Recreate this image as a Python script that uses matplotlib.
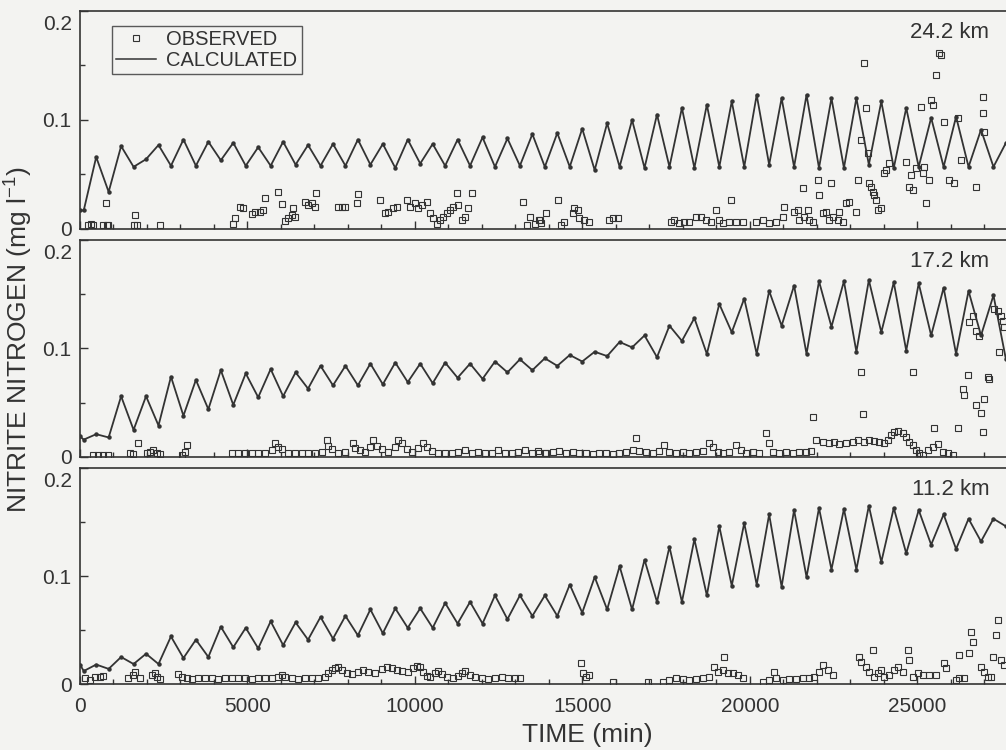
import matplotlib.pyplot as plt
from matplotlib.lines import Line2D
from matplotlib.ticker import MultipleLocator
from matplotlib.transforms import ScaledTranslation

plt.rcParams['font.family'] = ['Liberation Sans', 'DejaVu Sans']

ink = '#333333'
paper = '#f3f3f1'

# calculated series, one value per half tide (trough / peak), time in min
calc_time = [0] + list(range(112, 27700, 372))

calc_24 = [0.017, 0.017, 0.066, 0.034, 0.076, 0.057, 0.064, 0.077, 0.058, 0.082,
           0.058, 0.080, 0.063, 0.079, 0.058, 0.075, 0.058, 0.080, 0.059, 0.077,
           0.058, 0.078, 0.058, 0.082, 0.059, 0.078, 0.056, 0.082, 0.060, 0.078,
           0.058, 0.082, 0.058, 0.084, 0.057, 0.083, 0.058, 0.087, 0.057, 0.088,
           0.057, 0.092, 0.054, 0.097, 0.057, 0.100, 0.056, 0.105, 0.057, 0.111,
           0.056, 0.114, 0.057, 0.117, 0.057, 0.123, 0.059, 0.120, 0.057, 0.123,
           0.056, 0.120, 0.056, 0.120, 0.059, 0.117, 0.056, 0.111, 0.057, 0.102,
           0.057, 0.103, 0.057, 0.091, 0.057, 0.079]

calc_17 = [0.019, 0.016, 0.021, 0.018, 0.056, 0.025, 0.056, 0.029, 0.074, 0.038,
           0.071, 0.044, 0.080, 0.048, 0.077, 0.055, 0.081, 0.056, 0.078, 0.063,
           0.084, 0.066, 0.084, 0.066, 0.086, 0.067, 0.087, 0.069, 0.086, 0.068,
           0.087, 0.073, 0.086, 0.072, 0.088, 0.078, 0.090, 0.080, 0.091, 0.084,
           0.094, 0.088, 0.097, 0.093, 0.106, 0.101, 0.112, 0.092, 0.121, 0.107,
           0.128, 0.095, 0.141, 0.115, 0.146, 0.095, 0.153, 0.121, 0.158, 0.095,
           0.162, 0.120, 0.162, 0.097, 0.163, 0.115, 0.161, 0.098, 0.160, 0.112,
           0.156, 0.095, 0.153, 0.112, 0.149, 0.090]

calc_11 = [0.018, 0.012, 0.018, 0.014, 0.025, 0.0185, 0.028, 0.0185, 0.044, 0.024,
           0.041, 0.025, 0.053, 0.034, 0.052, 0.033, 0.058, 0.036, 0.057, 0.041,
           0.062, 0.042, 0.063, 0.045, 0.069, 0.047, 0.070, 0.052, 0.070, 0.052,
           0.075, 0.056, 0.076, 0.056, 0.082, 0.060, 0.082, 0.063, 0.082, 0.063,
           0.092, 0.066, 0.099, 0.069, 0.109, 0.069, 0.115, 0.076, 0.127, 0.076,
           0.134, 0.082, 0.146, 0.091, 0.149, 0.092, 0.157, 0.090, 0.161, 0.099,
           0.163, 0.106, 0.162, 0.106, 0.165, 0.113, 0.163, 0.121, 0.161, 0.129,
           0.157, 0.125, 0.153, 0.132, 0.153, 0.146]

# observed samples
obs_time_24 = [249, 330, 398, 697, 766, 796, 850, 1600, 1642, 1692, 2388,
               4577, 4627, 4776, 4876, 5124, 5224, 5373, 5473, 5522, 5920, 6020, 6119, 6219, 6318, 6368, 6418,
               6716, 6816, 6915, 7015, 7050, 7711, 7811, 7910, 8259, 8308, 8955, 9104, 9204, 9353, 9453,
               9751, 9851, 10000, 10100, 10199, 10348, 10448, 10547, 10647, 10746, 10846, 10945, 11045, 11144, 11244, 11293,
               11393, 11492, 11592, 11691, 13234, 13333, 13433, 13582, 13731,
               13712, 13761, 13910, 14259, 14358, 14458, 14707, 14756, 14856, 14906, 15055, 15204, 15801, 15900, 16050,
               17642, 17741, 17891, 18040, 18189, 18388, 18537, 18687, 18836, 18985, 19085, 19184, 19383, 19433, 19582, 19781,
               20179, 20378, 20577, 20776, 20975, 21025, 21323, 21423, 21473, 21572, 21622, 21721, 21771, 21871,
               22020, 22070, 22169, 22269, 22368, 22418, 22468, 22617, 22667, 22766, 22866, 22965, 23164, 23214,
               23313, 23413, 23463, 23512, 23562, 23612, 23662, 23711, 23761, 23811, 23910, 24010, 24060, 24159,
               24657, 24756, 24806, 24856, 24955, 25104, 25154, 25204, 25254, 25353, 25403, 25453, 25552, 25652, 25701, 25801,
               25950, 26099, 26199, 26298, 26746, 26945, 26945, 26995]
obs_24 = [0.004, 0.005, 0.004, 0.004, 0.0235, 0.004, 0.004, 0.004, 0.013, 0.004, 0.004,
          0.005, 0.010, 0.0205, 0.019, 0.014, 0.016, 0.016, 0.017, 0.028, 0.034, 0.023, 0.007, 0.010, 0.013, 0.019, 0.011,
          0.025, 0.022, 0.0235, 0.0205, 0.033, 0.0205, 0.020, 0.0205, 0.0235, 0.032, 0.027, 0.0145, 0.016, 0.019, 0.0205,
          0.027, 0.0205, 0.0235, 0.019, 0.022, 0.025, 0.0145, 0.010, 0.005, 0.008, 0.011, 0.0145, 0.0175, 0.0205, 0.033, 0.022,
          0.008, 0.011, 0.019, 0.033, 0.025, 0.004, 0.011, 0.005, 0.008,
          0.0083, 0.0052, 0.0144, 0.0266, 0.0037, 0.0067, 0.0144, 0.019, 0.0174, 0.0098, 0.0083, 0.0067, 0.0083, 0.0098, 0.0098,
          0.0067, 0.0083, 0.0052, 0.0067, 0.0067, 0.0113, 0.0113, 0.0083, 0.0067, 0.0174, 0.0083, 0.0052, 0.0067, 0.0266, 0.0067, 0.0067,
          0.0067, 0.0083, 0.0052, 0.0067, 0.0113, 0.0205, 0.0159, 0.0174, 0.0083, 0.0373, 0.0113, 0.0174, 0.0083, 0.0067,
          0.045, 0.0312, 0.0144, 0.0159, 0.0083, 0.0419, 0.0113, 0.0083, 0.0159, 0.0067, 0.0235, 0.025, 0.0159, 0.045,
          0.0817, 0.152, 0.1107, 0.0694, 0.0419, 0.0389, 0.0343, 0.0312, 0.0266, 0.0174, 0.019, 0.0511, 0.0541, 0.0603,
          0.0618, 0.0389, 0.0495, 0.0358, 0.0557, 0.1122, 0.0511, 0.0572, 0.0235, 0.045, 0.1183, 0.1138, 0.1413, 0.1612, 0.1596, 0.0985,
          0.045, 0.0419, 0.1015, 0.0633, 0.0389, 0.1214, 0.1061, 0.0893]

obs_time_17 = [398, 548, 697, 846, 1493, 1592, 1741, 1990, 2090, 2189, 2289, 2388, 3035, 3134, 3184,
               4527, 4726, 4925, 5124, 5323, 5522, 5721, 5821, 5920, 6020, 6219, 6418, 6617, 6816, 7015, 7214, 7363, 7413, 7512, 7711, 7910,
               8159, 8209, 8358, 8507, 8657, 8756, 8856, 9005, 9204, 9403, 9502, 9602, 9751, 9900, 10099, 10249, 10348, 10497, 10696,
               10895, 11094, 11293, 11492, 11691, 11890, 12089, 12288, 12487, 12686, 12885, 13084, 13283, 13482, 13681, 13880,
               13712, 13911, 14110, 14309, 14508, 14707, 14906, 15105, 15304, 15503, 15702, 15901, 16100, 16299, 16498, 16597, 16697, 16896, 17095, 17294, 17443, 17592,
               17791, 17990, 18189, 18388, 18587, 18786, 18886, 19035, 19184, 19383, 19582, 19731, 19881, 20080, 20279, 20478, 20577, 20677, 20876, 21075, 21274, 21473, 21672, 21821, 21871,
               21970, 22169, 22368, 22517, 22667, 22866, 23065, 23214, 23413, 23562, 23711, 23861, 24010, 24109, 24209, 24308, 24408, 24557, 24657, 24756,
               24856, 24955, 25055, 25154, 25303, 25453, 25602, 25751, 25901, 26050,
               23313, 23363, 24856, 25502, 26199, 26497, 26348, 26398, 26746, 26995, 26895, 26945, 27094, 27144,
               26547, 26647, 26746, 26846, 27293, 27393, 27492, 27542, 27592, 27443]
obs_17 = [0.0018, 0.0018, 0.0018, 0.0018, 0.0034, 0.0028, 0.0125, 0.0034, 0.0049, 0.0064, 0.0034, 0.0028, 0.0018, 0.0049, 0.011,
          0.0034, 0.0034, 0.004, 0.0034, 0.0034, 0.004, 0.0064, 0.0125, 0.0095, 0.0071, 0.004, 0.0034, 0.0034, 0.0034, 0.004, 0.0049, 0.0156, 0.0101, 0.0071, 0.004, 0.0049,
          0.0125, 0.008, 0.0064, 0.0049, 0.0095, 0.0156, 0.0101, 0.0071, 0.0049, 0.0095, 0.0156, 0.0125, 0.0071, 0.0049, 0.008, 0.0125, 0.0095, 0.0058, 0.004,
          0.0034, 0.004, 0.0049, 0.0064, 0.004, 0.0049, 0.0034, 0.004, 0.0064, 0.004, 0.0034, 0.0049, 0.0064, 0.004, 0.0058, 0.004,
          0.0034, 0.004, 0.0049, 0.0058, 0.004, 0.0049, 0.004, 0.0034, 0.0027, 0.0034, 0.004, 0.0027, 0.004, 0.0049, 0.0064, 0.0171, 0.0058, 0.0049, 0.004, 0.0058, 0.011, 0.0049,
          0.004, 0.0049, 0.004, 0.0049, 0.0058, 0.0125, 0.0095, 0.0049, 0.004, 0.0049, 0.011, 0.0064, 0.004, 0.0049, 0.004, 0.0217, 0.0125, 0.0049, 0.004, 0.0049, 0.004, 0.0049, 0.0049, 0.0058, 0.037,
          0.0156, 0.0141, 0.0125, 0.0141, 0.0119, 0.0125, 0.0141, 0.0156, 0.0141, 0.0156, 0.015, 0.0141, 0.0132, 0.0156, 0.0202, 0.0232, 0.0242, 0.0223, 0.0187, 0.0141,
          0.011, 0.0064, 0.0034, 0.0018, 0.0064, 0.0095, 0.0119, 0.0049, 0.0034, 0.0018,
          0.0783, 0.0394, 0.0783, 0.0263, 0.0263, 0.0752, 0.063, 0.0569, 0.0477, 0.0538, 0.0401, 0.0232, 0.0737, 0.0722,
          0.1242, 0.1303, 0.1165, 0.1119, 0.1364, 0.1349, 0.1303, 0.1257, 0.1196, 0.0966]

obs_time_11 = [150, 299, 448, 597, 697, 1443, 1592, 1642, 1791, 2139, 2239, 2289, 2388,
               2935, 3035, 3184, 3334, 3532, 3731, 3930, 4130, 4328, 4527, 4726, 4925, 5124, 5323, 5522, 5721, 5920, 6020, 6119, 6318, 6518, 6717, 6916, 7115, 7314,
               7413, 7513, 7612, 7711, 7811, 7960, 8110, 8309, 8458, 8607, 8806, 9005, 9154, 9304, 9453, 9602, 9801, 9950, 10050, 10149, 10249, 10348, 10448,
               10597, 10697, 10796, 10945, 11144, 11294, 11393, 11493, 11642, 11791, 11990, 12189, 12388, 12587, 12786, 12985, 13134,
               14955, 15005, 15105, 15204, 15901, 16945, 17393, 17592, 17791, 17990, 18189, 18388, 18587, 18786, 18935, 19035, 19184, 19234, 19333, 19483, 19632, 19781,
               20378, 20577, 20726, 20776, 20975, 21174, 21373, 21572, 21771, 21920, 22070, 22169, 22318, 22468,
               23264, 23313, 23463, 23562, 23662, 23711, 23811, 23910, 24010, 24159, 24308, 24408, 24557, 24706, 24756, 24856, 25005, 25154, 25353, 25552,
               25801, 25851, 26149, 26249, 26398, 26249, 26547, 26597, 26647, 26895, 26995, 27094, 27194, 27244, 27343, 27393, 27492, 27592]
obs_11 = [0.0052, 0.0037, 0.0062, 0.0068, 0.0074, 0.0052, 0.0083, 0.0114, 0.0052, 0.0083, 0.0105, 0.0068, 0.0043,
          0.0093, 0.0068, 0.0055, 0.0050, 0.0058, 0.0052, 0.0055, 0.0048, 0.0055, 0.0060, 0.0052, 0.0055, 0.0050, 0.0058, 0.0052, 0.0055, 0.0068, 0.0083, 0.0068, 0.0055, 0.0050, 0.0058, 0.0052, 0.0055, 0.0062,
          0.0099, 0.013, 0.0145, 0.0154, 0.013, 0.0105, 0.0093, 0.0111, 0.013, 0.0111, 0.0099, 0.0142, 0.016, 0.0148, 0.013, 0.0123, 0.0111, 0.0145, 0.0167, 0.0154, 0.0114, 0.0074, 0.0068,
          0.0099, 0.0117, 0.0093, 0.0062, 0.0055, 0.0074, 0.0105, 0.0117, 0.0083, 0.0062, 0.0055, 0.0050, 0.0055, 0.0062, 0.0052, 0.0055, 0.0055,
          0.0191, 0.0099, 0.0062, 0.0083, 0.0022, 0.0022, 0.0022, 0.0037, 0.0052, 0.0043, 0.0037, 0.0043, 0.0052, 0.0068, 0.016, 0.0114, 0.013, 0.0253, 0.0105, 0.0099, 0.0083, 0.0052,
          0.0022, 0.0037, 0.0114, 0.0052, 0.0037, 0.0043, 0.0043, 0.0052, 0.0052, 0.0068, 0.0114, 0.0176, 0.013, 0.0083,
          0.0253, 0.0207, 0.016, 0.0114, 0.0315, 0.0068, 0.0099, 0.013, 0.0068, 0.0083, 0.013, 0.016, 0.0114, 0.0315, 0.0222, 0.0068, 0.0099, 0.0083, 0.0083, 0.0083,
          0.0191, 0.0145, 0.0037, 0.0052, 0.0052, 0.0269, 0.0284, 0.0485, 0.0392, 0.016, 0.0114, 0.0068, 0.0068, 0.0253, 0.0454, 0.0593, 0.0222, 0.0176]

stations = ['24.2 km', '17.2 km', '11.2 km']
calc_series = [calc_24, calc_17, calc_11]
obs_times = [obs_time_24, obs_time_17, obs_time_11]
obs_series = [obs_24, obs_17, obs_11]

# panel boxes in figure fraction (left, bottom, width, height)
boxes = [[0.0795, 0.6947, 0.9205, 0.2907],
         [0.0795, 0.3907, 0.9205, 0.2893],
         [0.0795, 0.0880, 0.9205, 0.2880]]

fig = plt.figure(figsize=(10.06, 7.5), dpi=100, facecolor=paper)

axes = []
for i in range(3):
    ax = fig.add_axes(boxes[i], facecolor=paper)
    ax.plot(calc_time, calc_series[i], color=ink, lw=1.3, marker='o', ms=2.2, zorder=3)
    ax.plot(obs_times[i], obs_series[i], ls='none', marker='s', ms=4.3,
            mfc='none', mec=ink, mew=0.8, zorder=4)

    ax.set_xlim(0, 27642)
    ax.set_ylim(0, 0.2)
    ax.set_yticks([0, 0.1, 0.2])
    ax.set_yticklabels(['0', '0.1', '0.2'])
    ax.yaxis.set_minor_locator(MultipleLocator(0.05))
    ax.xaxis.set_major_locator(MultipleLocator(5000))
    ax.xaxis.set_minor_locator(MultipleLocator(1000))
    ax.tick_params(which='both', direction='in', top=False, right=False,
                   colors=ink, labelsize=15, width=1)
    ax.tick_params(which='major', length=6, pad=6)
    ax.tick_params(which='minor', length=3.5)
    ax.tick_params(axis='x', pad=9)
    ax.spines['right'].set_visible(False)
    for s in ['left', 'top', 'bottom']:
        ax.spines[s].set_color(ink)
        ax.spines[s].set_linewidth(1.2)
    # the top label sits a little below the frame
    top_lab = ax.get_yticklabels()[-1]
    top_lab.set_verticalalignment('top')
    top_lab.set_transform(top_lab.get_transform()
                          + ScaledTranslation(0, -0.04, fig.dpi_scale_trans))

    ax.text(0.982, 1 - 22 / 218, stations[i], transform=ax.transAxes,
            ha='right', va='center', fontsize=16, color=ink)
    if i < 2:
        ax.tick_params(labelbottom=False)
    axes.append(ax)

handles = [Line2D([], [], ls='none', marker='s', ms=4.3, mfc='none', mec=ink, mew=0.8),
           Line2D([], [], color=ink, lw=1.1)]
leg = axes[0].legend(handles, ['OBSERVED', 'CALCULATED'], loc='upper left',
                     bbox_to_anchor=(0.0346, 0.931), borderaxespad=0, fontsize=14.5,
                     frameon=True, fancybox=False, handlelength=2.0, handletextpad=0.5,
                     borderpad=0.2, labelspacing=0.1)
leg.get_frame().set_edgecolor(ink)
leg.get_frame().set_facecolor(paper)
leg.get_frame().set_linewidth(1.0)
for t in leg.get_texts():
    t.set_color(ink)

fig.text(0.017, 0.547, 'NITRITE NITROGEN (mg l$^{\\mathregular{-1}}$)', rotation=90,
         ha='center', va='center', fontsize=19, color=ink)
fig.text(587 / 1006, 1 - 735 / 750, 'TIME (min)', ha='center', va='center',
         fontsize=19, color=ink)

fig.savefig('out.png', dpi=100, facecolor=paper)
